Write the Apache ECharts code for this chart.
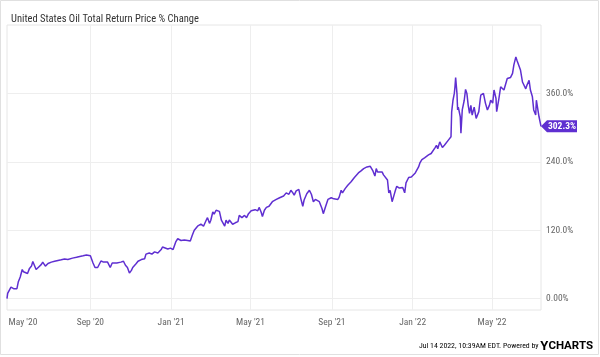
<!DOCTYPE html>
<html>
<head>
<meta charset="utf-8">
<script src="https://cdn.jsdelivr.net/npm/echarts@6/dist/echarts.min.js"></script>
<style>
html,body{margin:0;padding:0;background:#fff;}
#chart{width:600px;height:357px;}
</style>
</head>
<body>
<div id="chart"></div>
<script>
const dates = [
'2020-04-28','2020-04-29','2020-05-02','2020-05-04','2020-05-06','2020-05-08','2020-05-10','2020-05-13','2020-05-15','2020-05-18',
'2020-05-21','2020-05-23','2020-05-26','2020-05-29','2020-06-01','2020-06-04','2020-06-06','2020-06-09','2020-06-11','2020-06-15',
'2020-06-19','2020-06-21','2020-06-24','2020-06-25','2020-06-29','2020-07-04','2020-07-09','2020-07-14','2020-07-19','2020-07-24',
'2020-07-29','2020-08-01','2020-08-05','2020-08-11','2020-08-16','2020-08-21','2020-08-26','2020-08-28','2020-09-01','2020-09-05',
'2020-09-08','2020-09-12','2020-09-15','2020-09-17','2020-09-21','2020-09-24','2020-09-27','2020-10-01','2020-10-04','2020-10-07',
'2020-10-11','2020-10-14','2020-10-17','2020-10-21','2020-10-24','2020-10-27','2020-10-30','2020-11-02','2020-11-04','2020-11-07',
'2020-11-09','2020-11-12','2020-11-17','2020-11-22','2020-11-24','2020-11-29','2020-12-03','2020-12-07','2020-12-12','2020-12-17',
'2020-12-19','2020-12-22','2020-12-27','2020-12-31','2021-01-04','2021-01-08','2021-01-11','2021-01-16','2021-01-21','2021-01-26',
'2021-01-30','2021-02-02','2021-02-05','2021-02-10','2021-02-15','2021-02-19','2021-02-23','2021-02-25','2021-02-28','2021-03-02',
'2021-03-05','2021-03-07','2021-03-10','2021-03-12','2021-03-15','2021-03-18','2021-03-20','2021-03-23','2021-03-25','2021-03-28',
'2021-03-30','2021-04-02','2021-04-04','2021-04-08','2021-04-12','2021-04-14','2021-04-18','2021-04-22','2021-04-25','2021-04-28',
'2021-05-02','2021-05-05','2021-05-08','2021-05-12','2021-05-14','2021-05-17','2021-05-19','2021-05-22','2021-05-25','2021-05-29',
'2021-06-03','2021-06-09','2021-06-14','2021-06-16','2021-06-20','2021-06-24','2021-06-28','2021-07-01','2021-07-04','2021-07-06',
'2021-07-09','2021-07-13','2021-07-16','2021-07-19','2021-07-21','2021-07-25','2021-07-29','2021-08-01','2021-08-04','2021-08-07',
'2021-08-10','2021-08-13','2021-08-17','2021-08-19','2021-08-22','2021-08-26','2021-08-31','2021-09-04','2021-09-07','2021-09-10',
'2021-09-12','2021-09-15','2021-09-17','2021-09-21','2021-09-25','2021-09-27','2021-09-30','2021-10-02','2021-10-05','2021-10-07',
'2021-10-11','2021-10-15','2021-10-19','2021-10-22','2021-10-24','2021-10-27','2021-10-29','2021-11-02','2021-11-05','2021-11-07',
'2021-11-09','2021-11-12','2021-11-16','2021-11-18','2021-11-21','2021-11-24','2021-11-26','2021-11-28','2021-12-01','2021-12-04',
'2021-12-06','2021-12-08','2021-12-10','2021-12-12','2021-12-15','2021-12-17','2021-12-20','2021-12-22','2021-12-26','2021-12-30',
'2022-01-01','2022-01-05','2022-01-07','2022-01-10','2022-01-12','2022-01-15','2022-01-19','2022-01-21','2022-01-25','2022-01-29',
'2022-02-01','2022-02-04','2022-02-06','2022-02-08','2022-02-11','2022-02-13','2022-02-15','2022-02-18','2022-02-21','2022-02-24',
'2022-02-26','2022-02-28','2022-03-01','2022-03-03','2022-03-05','2022-03-06','2022-03-07','2022-03-09','2022-03-10','2022-03-11',
'2022-03-14','2022-03-15','2022-03-17','2022-03-20','2022-03-22','2022-03-24','2022-03-26','2022-03-28','2022-03-30','2022-04-01',
'2022-04-04','2022-04-07','2022-04-09','2022-04-11','2022-04-13','2022-04-14','2022-04-18','2022-04-21','2022-04-24','2022-04-27',
'2022-04-29','2022-05-02','2022-05-04','2022-05-07','2022-05-08','2022-05-11','2022-05-14','2022-05-17','2022-05-19','2022-05-22',
'2022-05-24','2022-05-27','2022-05-29','2022-06-01','2022-06-03','2022-06-06','2022-06-08','2022-06-11','2022-06-13','2022-06-16',
'2022-06-18','2022-06-21','2022-06-23','2022-06-26','2022-06-28','2022-07-01','2022-07-03','2022-07-06','2022-07-07','2022-07-10',
'2022-07-11','2022-07-14'
];
const values = [
0,9,12,20,21,17.5,21,17.5,29,38,
51,47,48,44,53,57,65,63,51,55.5,
60,64,61,57,61.5,64,65.5,67,68,69.5,
68.5,67,71,72.5,74,75,76.5,76,75,62.5,
54.5,54.5,57,66,64,61,64,54.5,62.5,65.5,
62.5,66,64,65.5,58.5,54.5,45,49.5,54.5,57,
61,65.5,68.5,70,78,80,78,82,80,86,
90.5,88,87,88.5,86,99.5,105,102,103,102,
101,111,120,127,130.5,127,137.5,142,132,137.5,
152,148,155,152,153,137.5,140,127,137.5,132,
138,135,130.5,133,135,146,142,146,142,149,
154,155,156,154,160,152,144,155,160,162,
170,174,177,175,180,185.5,183,190,185.5,181.5,
189,191.5,175.5,162,173,184,190,183,170,174,
175.5,170,158,149,160,174,177,175,178,174,
178,190,185.5,193,199,197,205,203,212.5,215,
220.5,224,228,226,231,228,232,224,215,228,
222,220.5,222,217,220.5,208,185.5,190,170,182,
190,197,195,194,196,195,185.5,203,212.5,213.5,
216.5,220.5,222,231,238,244,247,244,252,254.5,
257.5,265,269,263,275,278,265,269,272,278,
281,284,327.7,348,360,371.6,388,360,331,336,
319,290,331,348,367,360,339,325,339,322,
336,316,313,328,348,357,360,343,331,339,
348,343,366,351,328,348,371.6,375,366,369,
386,388,388,395,410,424,417,415,401,380,
378,368,375,383,366,354,331,322,348,347,
319,302.3
];
const xStart = '2020-04-28';
const xEnd = '2022-07-14';
const gridDates = ['2020-09-01','2021-01-01','2021-05-01','2021-09-01','2022-01-01','2022-05-01'];
const labelDates = ['2020-05-01','2020-09-01','2021-01-01','2021-05-01','2021-09-01','2022-01-01','2022-05-01'];
const labelTexts = ["May '20","Sep '20","Jan '21","May '21","Sep '21","Jan '22","May '22"];
const yTicks = [0,120,240,360];
const yTickTexts = ['0.00%','120.0%','240.0%','360.0%'];
const yMin = -20, yMax = 480;
const titleText = 'United States Oil Total Return Price % Change';
const footerText = 'Jul 14 2022, 10:39AM EDT. Powered by ';

const ts = s => { const [y,m,d] = s.split('-').map(Number); return Date.UTC(y, m-1, d); };
const data = dates.map((d,i) => [ts(d), values[i]]);
const labelMap = {};
labelDates.forEach((d,i) => { labelMap[ts(d)] = labelTexts[i]; });
const yLabelMap = {};
yTicks.forEach((v,i) => { yLabelMap[v] = yTickTexts[i]; });

const FONT = "'Liberation Sans Narrow','Roboto Condensed','DejaVu Sans Condensed',Roboto,sans-serif";
const PURPLE = '#5f2fd1';
const last = data[data.length-1];

const chart = echarts.init(document.getElementById('chart'), null, {renderer:'canvas'});
chart.setOption({
  animation:false,
  backgroundColor:'#fff',
  title:{
    text:titleText, left:6, top:9,
    textStyle:{fontFamily:FONT, fontSize:10.5, fontWeight:'normal', color:'#333'}
  },
  grid:{left:7, right:59, top:25, bottom:47, show:true, borderColor:'#e6e6e6', borderWidth:1, backgroundColor:'transparent'},
  xAxis:{
    type:'value', min:ts(xStart), max:ts(xEnd), scale:true,
    axisLine:{show:false}, axisTick:{show:false, customValues:gridDates.map(ts)},
    splitLine:{show:true, lineStyle:{color:'#eeeeee', width:1}},
    axisLabel:{
      customValues:labelDates.map(ts),
      margin:8, color:'#666', fontFamily:FONT, fontSize:9.5,
      formatter:(v)=>{ const t = labelMap[v] || ''; return v === ts(labelDates[0]) ? '{f|'+t+'}' : t; },
      rich:{f:{padding:[0,0,0,28], color:'#666', fontFamily:FONT, fontSize:9.5}}
    }
  },
  yAxis:{
    type:'value', position:'right', min:yMin, max:yMax,
    axisLine:{show:false}, axisTick:{show:false, customValues:yTicks},
    splitLine:{show:true, lineStyle:{color:'#eeeeee', width:1}},
    axisLabel:{customValues:yTicks, margin:5, color:'#666', fontFamily:FONT, fontSize:9.5,
      padding:[0,0,6,0],
      formatter:(v)=> yLabelMap[v] !== undefined ? yLabelMap[v] : ''}
  },
  series:[{
    type:'line', data:data, showSymbol:false, symbol:'none',
    lineStyle:{color:PURPLE, width:1.5}, itemStyle:{color:PURPLE},
    markPoint:{
      silent:true,
      symbol:'path://M0,6 L6,0 L36,0 L36,12 L6,12 Z',
      symbolSize:[36,12], symbolOffset:[18,0], symbolKeepAspect:false,
      itemStyle:{color:PURPLE},
      label:{show:true, position:'inside', offset:[3,0], color:'#fff', fontFamily:FONT, fontSize:9.5, fontWeight:'bold',
        overflow:'none',
        formatter:(p)=> p.value.toFixed(1)+'%'},
      data:[{coord:last, value:last[1]}]
    }
  }],
  graphic:[
    {type:'rect', shape:{x:0.5,y:0.5,width:598,height:354}, style:{fill:'none', stroke:'#e0e0e0', lineWidth:1}, silent:true, z:-1},
    {type:'text', right:7, top:340, style:{
      text:'{a|'+footerText+'}{y|Y}{c|CHARTS}',
      rich:{
        a:{fontFamily:FONT, fontSize:7.8, color:'#333'},
        y:{fontFamily:'Roboto,sans-serif', fontSize:13, fontWeight:'bold', color:'#2a9bf0'},
        c:{fontFamily:'Roboto,sans-serif', fontSize:11.5, fontWeight:'bold', color:'#1d2b45'}
      }
    }}
  ]
});
</script>
</body>
</html>
